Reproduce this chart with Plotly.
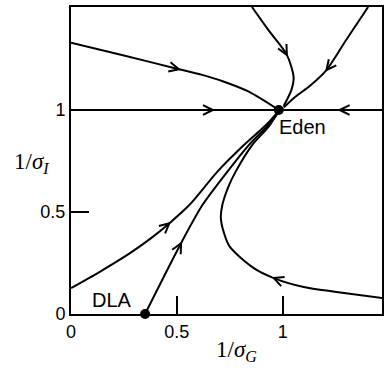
import math
import plotly.graph_objects as go

# ---------------- data ----------------
x_tick_vals = [0, 0.5, 1]
x_tick_text = ["0", "0.5", "1"]
y_tick_vals = [0, 0.5, 1]
y_tick_text = ["0", "0.5", "1"]

eden_x, eden_y = 0.982, 1.0
dla_x, dla_y = 0.35, 0.0

# horizontal separatrix at 1/sigma_I = 1
h_left_x = [0.0, 0.67, 0.982]
h_left_y = [1.0, 1.0, 1.0]
h_right_x = [1.47, 1.27, 0.982]
h_right_y = [1.0, 1.0, 1.0]

# flow from upper left
ul_x = [0.0, 0.25, 0.51, 0.62, 0.72, 0.84, 0.982]
ul_y = [1.33, 1.267, 1.20, 1.172, 1.14, 1.09, 1.0]

# flow from top (middle)
tm_x = [0.855, 0.934, 1.02, 1.052, 1.042, 1.005]
tm_y = [1.505, 1.39, 1.27, 1.16, 1.10, 1.02]

# flow from top right
tr_x = [1.404, 1.30, 1.207, 1.128, 1.06, 1.005]
tr_y = [1.505, 1.343, 1.196, 1.118, 1.065, 1.012]

# flow from (0, 0.13) to Eden
a_x = [0.0, 0.136, 0.277, 0.38, 0.465, 0.559, 0.692, 0.817, 0.925, 0.98]
a_y = [0.127, 0.207, 0.297, 0.373, 0.445, 0.534, 0.698, 0.828, 0.93, 0.995]

# flow from DLA to Eden
b_x = [0.35, 0.52, 0.621, 0.739, 0.84, 0.93, 0.98]
b_y = [0.0, 0.347, 0.534, 0.698, 0.828, 0.925, 0.99]

# S-shaped flow from lower right to Eden
c_x = [1.47, 1.254, 1.10, 0.958, 0.862, 0.75, 0.722, 0.708, 0.715, 0.742, 0.778, 0.856, 0.935, 0.98]
c_y = [0.078, 0.108, 0.132, 0.176, 0.226, 0.33, 0.40, 0.47, 0.534, 0.62, 0.698, 0.828, 0.92, 0.99]

# (curve, index of arrow point)
curves = [
    (h_left_x, h_left_y, 1),
    (h_right_x, h_right_y, 1),
    (ul_x, ul_y, 2),
    (tm_x, tm_y, 2),
    (tr_x, tr_y, 2),
    (a_x, a_y, 4),
    (b_x, b_y, 1),
    (c_x, c_y, 3),
]

# ---------------- layout geometry ----------------
W, H = 388, 368
ML, MR, MT, MB = 71, 4, 7, 54
PW, PH = W - ML - MR, H - MT - MB
PX_PER_X = 213.0
PX_PER_Y = 204.0
X_MAX = PW / PX_PER_X
Y_MAX = PH / PX_PER_Y

fig = go.Figure()

for cx, cy, ai in curves:
    fig.add_trace(go.Scatter(x=cx, y=cy, mode="lines",
                             line=dict(color="black", width=2, shape="spline", smoothing=0.8),
                             hoverinfo="skip", showlegend=False, cliponaxis=True))
    # chevron arrow head, computed in pixel space
    i0 = max(ai - 1, 0)
    i1 = min(ai + 1, len(cx) - 1)
    dxp = (cx[i1] - cx[i0]) * PX_PER_X
    dyp = (cy[i1] - cy[i0]) * PX_PER_Y
    n = math.hypot(dxp, dyp)
    ux, uy = dxp / n, dyp / n
    L, th = 11.0, math.radians(26)
    wx, wy = [], []
    for s in (1, -1):
        rx = ux * math.cos(th) - s * uy * math.sin(th)
        ry = s * ux * math.sin(th) + uy * math.cos(th)
        wx.append(cx[ai] - L * rx / PX_PER_X)
        wy.append(cy[ai] - L * ry / PX_PER_Y)
    fig.add_trace(go.Scatter(x=[wx[0], cx[ai], wx[1]], y=[wy[0], cy[ai], wy[1]],
                             mode="lines", line=dict(color="black", width=2),
                             hoverinfo="skip", showlegend=False))

# fixed points
fig.add_trace(go.Scatter(x=[eden_x, dla_x], y=[eden_y, dla_y], mode="markers",
                         marker=dict(color="black", size=10),
                         hoverinfo="skip", showlegend=False, cliponaxis=False))

LABEL_FONT = dict(family="Liberation Sans, Arial, sans-serif", size=18, color="black")
TITLE_FONT = dict(family="Liberation Serif, Times New Roman, serif", size=23, color="black")

fig.add_annotation(x=0.972, y=0.917, xref="x", yref="y", text="Eden", showarrow=False,
                   xanchor="left", yanchor="middle",
                   font=dict(family="Liberation Sans, Arial, sans-serif", size=20, color="black"))
fig.add_annotation(x=0.193, y=0.069, xref="x", yref="y", text="DLA", showarrow=False,
                   xanchor="center", yanchor="middle",
                   font=dict(family="Liberation Sans, Arial, sans-serif", size=20, color="black"))

fig.add_annotation(x=(238 - ML) / PW, y=(H - MB - 351) / PH, xref="paper", yref="paper",
                   text="1/<i>σ</i><sub><i>G</i></sub>", showarrow=False,
                   xanchor="center", yanchor="middle", font=TITLE_FONT)
fig.add_annotation(x=(31 - ML) / PW, y=(H - MB - 163) / PH, xref="paper", yref="paper",
                   text="1/<i>σ</i><sub><i>I</i></sub>", showarrow=False,
                   xanchor="center", yanchor="middle", font=TITLE_FONT)

fig.update_xaxes(range=[0, X_MAX], showgrid=False, zeroline=False,
                 showline=True, linecolor="black", linewidth=2, mirror=True,
                 tickvals=x_tick_vals, ticktext=x_tick_text,
                 ticks="inside", ticklen=18, tickwidth=1.5, tickcolor="black",
                 tickfont=LABEL_FONT, fixedrange=True)
fig.update_yaxes(range=[0, Y_MAX], showgrid=False, zeroline=False,
                 showline=True, linecolor="black", linewidth=2, mirror=True,
                 tickvals=y_tick_vals, ticktext=y_tick_text,
                 ticks="inside", ticklen=18, tickwidth=1.5, tickcolor="black",
                 tickfont=LABEL_FONT, fixedrange=True)

fig.update_layout(width=W, height=H, margin=dict(l=ML, r=MR, t=MT, b=MB),
                  paper_bgcolor="white", plot_bgcolor="white", showlegend=False)

fig.write_html("out.html", config={"displayModeBar": False},
               post_script="document.body.style.margin='0';document.body.style.overflow='hidden';")
